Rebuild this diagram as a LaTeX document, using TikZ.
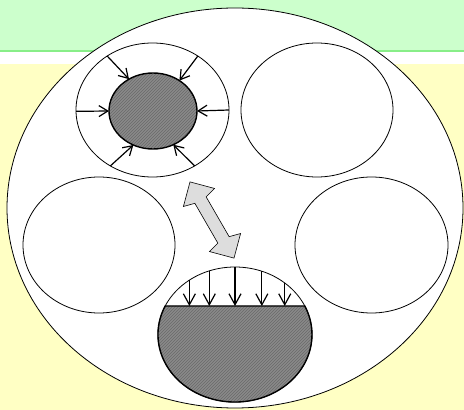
\documentclass[tikz,border=0pt]{standalone}
\usetikzlibrary{shapes.geometric,arrows.meta,patterns}
\definecolor{bggreen}{HTML}{CCFFCC}
\definecolor{bgline}{HTML}{88EE88}
\definecolor{bgyellow}{HTML}{FFFFC4}
\definecolor{hatchbase}{HTML}{8A8A8A}
\definecolor{hatchline}{HTML}{6A6A6A}
\definecolor{arrowfill}{HTML}{DDDDDD}
\begin{document}
\begin{tikzpicture}[x=1pt,y=1pt,
  ell/.style={ellipse,draw=black,fill=white,line width=0.8pt,inner sep=0pt,outer sep=0pt},
  core/.style={ellipse,draw=black,line width=1.4pt,inner sep=0pt,outer sep=0pt,
    preaction={fill=hatchbase},pattern=north east lines,pattern color=hatchline},
  push/.style={line width=1.2pt,-{Straight Barb[length=9pt,width=11pt]}},
  pushbig/.style={line width=1.2pt,-{Straight Barb[length=11pt,width=12pt]}}]
\useasboundingbox (0,0) rectangle (464,410);
% background
\fill[bgyellow] (0,0) rectangle (464,346);
\fill[white] (0,346) rectangle (464,359);
\fill[bggreen] (0,359) rectangle (464,410);
\draw[bgline,line width=1.5pt] (0,359) -- (464,359);
% big ellipse
\node[ell,minimum width=456pt,minimum height=400pt] (big) at (235,202) {};
% four ellipses
\node[ell,minimum width=153pt,minimum height=134pt] (tlo) at (152.5,300) {};
\node[core,minimum width=88pt,minimum height=76pt] (tli) at (153,299) {};
\node[ell,minimum width=152pt,minimum height=134pt] (tr) at (317,300) {};
\node[ell,minimum width=152pt,minimum height=136pt] (ml) at (99,165) {};
\node[ell,minimum width=153pt,minimum height=136pt] (mr) at (371.5,165) {};
% arrows toward the core
\draw[push] (tlo.130) -- (tli.127);
\draw[push] (tlo.50) -- (tli.49);
\draw[push] (tlo.181) -- (tli.180);
\draw[push] (tlo.0) -- (tli.0);
\draw[push] (tlo.233) -- (tli.240);
\draw[push] (tlo.307) -- (tli.301);
% bottom ellipse with segment
\node[ell,minimum width=154pt,minimum height=135pt] (bot) at (235,75.5) {};
\coordinate (chordL) at (165.2,104);
\coordinate (chordR) at (304.8,104);
\draw[line width=1.4pt,preaction={fill=hatchbase},pattern=north east lines,pattern color=hatchline]
  (chordL) arc[start angle=155,end angle=385,x radius=77pt,y radius=67.5pt] -- cycle;
\draw[pushbig] (bot.130.4) -- (bot.130.4 |- chordL);
\draw[pushbig] (bot.112.3) -- (bot.112.3 |- chordL);
\draw[pushbig] (bot.90.8) -- (bot.90.8 |- chordL);
\draw[pushbig] (bot.67.7) -- (bot.67.7 |- chordL);
\draw[pushbig] (bot.46.8) -- (bot.46.8 |- chordL);
% double block arrow
\begin{scope}[shift={(212,190)},rotate=-60]
\draw[fill=arrowfill,draw=black,line width=0.6pt,line join=miter]
  (-44,0) -- (-26,18) -- (-23,6.5) -- (23,6.5) -- (26,18) -- (44,0)
  -- (26,-18) -- (23,-6.5) -- (-23,-6.5) -- (-26,-18) -- cycle;
\end{scope}
\end{tikzpicture}
\end{document}
